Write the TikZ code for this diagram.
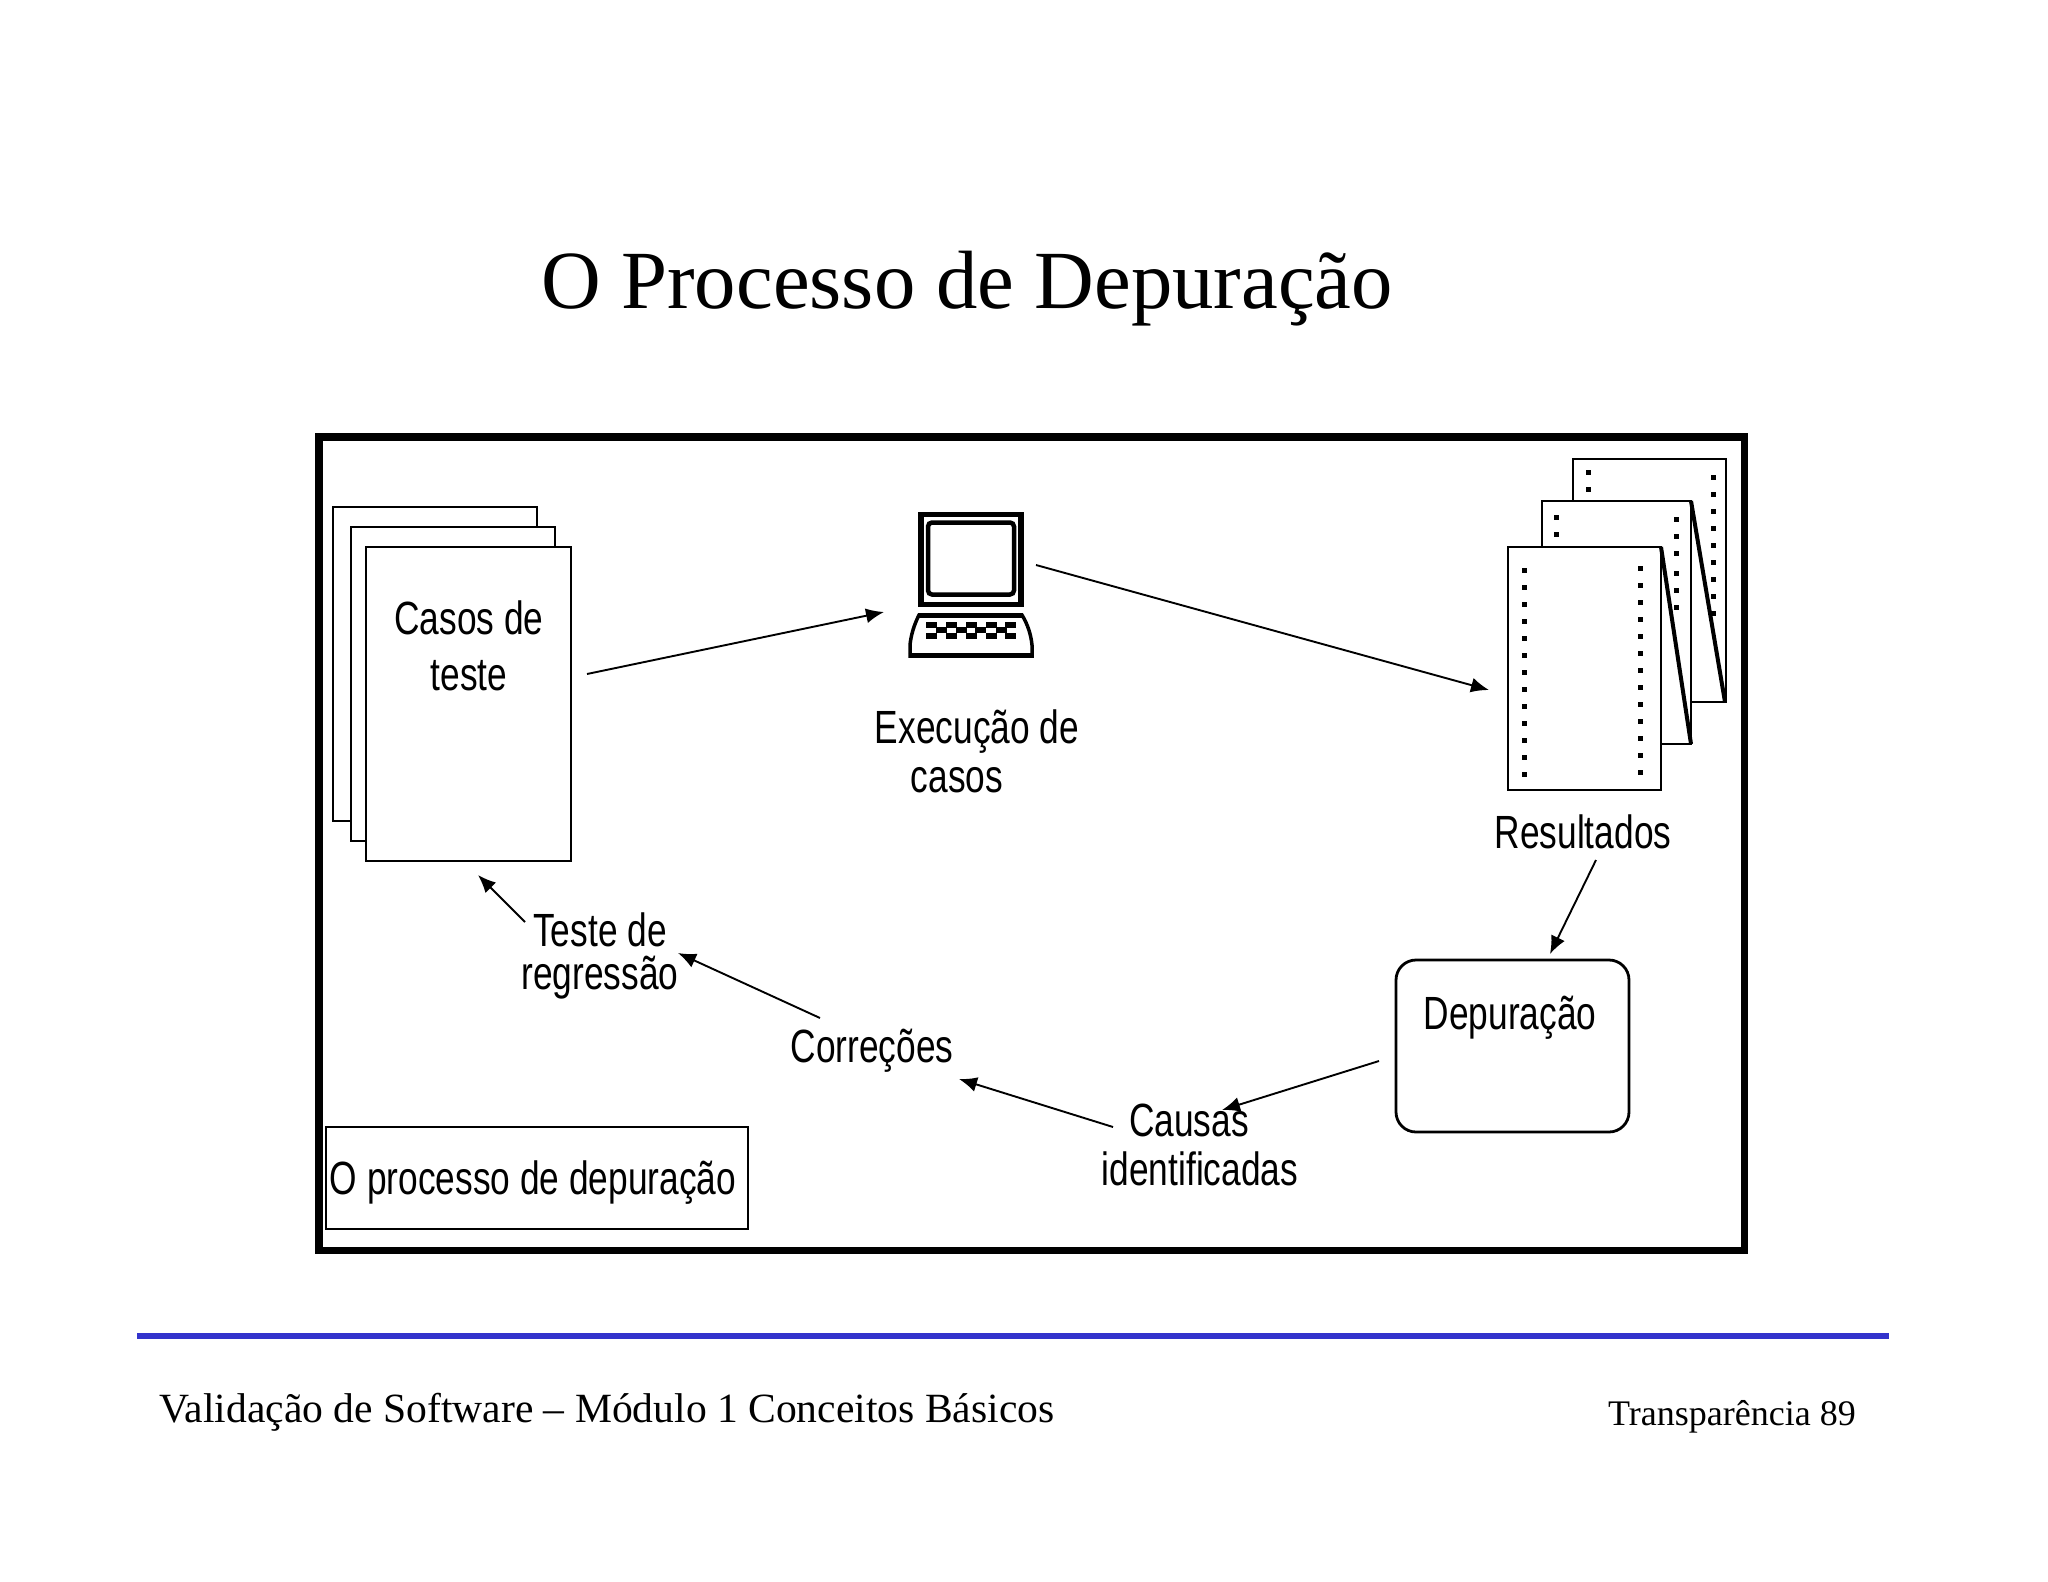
\documentclass[tikz,border=0pt]{standalone}
\usepackage{fontspec}
\setmainfont{Liberation Serif}
\newfontfamily\diagfont{Liberation Sans}
\usetikzlibrary{arrows.meta}
\definecolor{ruleblue}{RGB}{51,51,204}
\tikzset{
    lbl/.style={font=\diagfont\fontsize{35.3}{36}\selectfont,align=center,inner sep=0pt,yscale=1.32},
    sheet/.style={draw=black,fill=white,line width=2.9pt},
    flow/.style={-{Latex[length=18pt,width=15pt]},line width=1.9pt},
    footer/.style={inner sep=0pt,anchor=base west}
}
\begin{document}
\begin{tikzpicture}[x=1pt,y=-1pt]
    \useasboundingbox (0,0) rectangle (2048,1582);

    %title and outer frame
    \node[font=\fontsize{82.7}{90}\selectfont,inner sep=0pt,anchor=base] (title) at (967,308) {O Processo de Depuração};
    \draw[line width=7.5pt] (319,437) rectangle (1744.5,1250.5);

    %test case sheets
    \draw[sheet] (333,507) rectangle (537,821);
    \draw[sheet] (351,527) rectangle (555,841);
    \draw[sheet] (366,547) rectangle (571,861);
    \node[lbl] (casos) at (469,646) {Casos de\\[6pt]teste};

    %computer: monitor, screen, keyboard
    \begin{scope}
        \draw[line width=5.5pt] (921,514.5) rectangle (1021,604.5);
        \draw[line width=4.5pt,rounded corners=4pt] (928,522.5) rectangle (1014,594.5);
        \draw[line width=3.5pt] (919,615) -- (1022,615)
            .. controls (1028,625) and (1031,635) .. (1032,645) -- (1032,656)
            -- (910,656) -- (910,645) .. controls (911,635) and (914,625) .. cycle;
        \draw[line width=5pt] (918,615.5) -- (1023,615.5);
        \draw[line width=5.5pt] (908.5,655.5) -- (1033.5,655.5);
        %keys
        \foreach \kx in {926,946,966,986,1005}{
            \fill (\kx,621.5) rectangle ++(10.5,6);
            \fill (\kx,633) rectangle ++(10.5,6);
        }
        \foreach \kx in {936,956,975,996}
            \fill (\kx,627) rectangle ++(10.5,6);
    \end{scope}
    \node[lbl,align=left] (execucao) at (977,751) {Execução de\\[1pt]\hspace*{36pt}casos};

    %result listings, piled up from the back
    \draw[sheet] (1573,459) rectangle (1726,702);
    \fill (1588,472) ++(-2.5,-2.5) rectangle ++(5,5);
    \fill (1588,489) ++(-2.5,-2.5) rectangle ++(5,5);
    \foreach \dy in {477,494,...,613}
        \fill (1713,\dy) ++(-2.5,-2.5) rectangle ++(5,5);
    \draw[sheet] (1542,501) rectangle (1691,744);
    \fill (1556,517) ++(-2.5,-2.5) rectangle ++(5,5);
    \fill (1556,534) ++(-2.5,-2.5) rectangle ++(5,5);
    \foreach \dy in {519,536,553,573,590,607}
        \fill (1676,\dy) ++(-2.5,-2.5) rectangle ++(5,5);
    \draw[line width=4pt] (1691,501) -- (1725,702);
    \draw[sheet] (1508,547) rectangle (1661,790);
    \foreach \dy in {570,587,...,774}
        \fill (1524,\dy) ++(-2.5,-2.5) rectangle ++(5,5);
    \foreach \dy in {568,585,...,772}
        \fill (1640,\dy) ++(-2.5,-2.5) rectangle ++(5,5);
    \draw[line width=4pt] (1661,547) -- (1691,744);
    \node[lbl] (resultados) at (1583,832) {Resultados};

    %debugging box
    \node[lbl] (depuracao) at (1510,1018) {Depuração};
    \draw[line width=2.8pt,rounded corners=20pt] (1396,960) rectangle (1629,1132);

    %remaining labels
    \node[lbl] (causas) at (1200,1145) {Causas\hspace*{22pt}\\[1pt]identificadas};
    \node[lbl] (correcoes) at (872,1051) {Correções};
    \node[lbl] (regressao) at (600,956) {Teste de\\[-4pt]regressão};
    \draw[line width=2.9pt] (326,1127) rectangle (748,1229);
    \node[lbl] (legenda) at (533,1183) {O processo de depuração};

    %free ends of the arrows
    \coordinate (casosOut) at (587,674);
    \coordinate (pcIn) at (884,612);
    \coordinate (pcOut) at (1036,565);
    \coordinate (resIn) at (1489,690);
    \coordinate (resOut) at (1596,860);
    \coordinate (depIn) at (1550,954);
    \coordinate (depOut) at (1379,1061);
    \coordinate (causasIn) at (1222,1110);
    \coordinate (causasOut) at (1113,1127);
    \coordinate (corrIn) at (959,1079);
    \coordinate (corrOut) at (820,1018);
    \coordinate (regIn) at (678,953);
    \coordinate (regOut) at (525,922);
    \coordinate (casosIn) at (478,875);

    %putting arrows
    \draw[flow] (casosOut) -- (pcIn);
    \draw[flow] (pcOut) -- (resIn);
    \draw[flow] (resOut) -- (depIn);
    \draw[flow] (depOut) -- (causasIn);
    \draw[flow] (causasOut) -- (corrIn);
    \draw[flow] (corrOut) -- (regIn);
    \draw[flow] (regOut) -- (casosIn);

    %footer
    \fill[ruleblue] (137,1332.5) rectangle (1889,1338.5);
    \node[footer,font=\fontsize{41.6}{46}\selectfont] (modulo) at (159,1422) {Validação de Software – Módulo 1 Conceitos Básicos};
    \node[footer,font=\fontsize{36}{40}\selectfont] (transp) at (1608,1425) {Transparência 89};
\end{tikzpicture}
\end{document}
